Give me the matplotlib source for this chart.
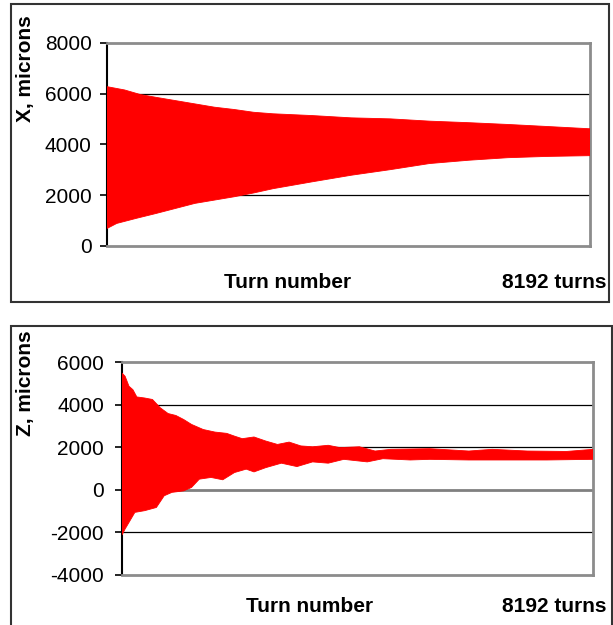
import matplotlib
matplotlib.use("Agg")
import matplotlib.pyplot as plt
from matplotlib.patches import Rectangle

plt.rcParams['font.family'] = ['Liberation Sans', 'DejaVu Sans']

# X envelope (turn, microns)
x_up_turn = [0, 298, 564, 829, 1161, 1492, 1824, 2156, 2487, 2819, 3482, 4146, 4809, 5472, 6136, 6799, 7462, 8192]
x_up_val = [6280, 6150, 5970, 5860, 5730, 5600, 5470, 5380, 5270, 5210, 5140, 5050, 5010, 4920, 4860, 4790, 4710, 4620]
x_lo_turn = [0, 166, 497, 829, 1161, 1492, 1824, 2156, 2487, 2819, 3482, 4146, 4809, 5472, 6136, 6799, 7462, 8192]
x_lo_val = [690, 890, 1090, 1280, 1480, 1680, 1810, 1940, 2090, 2260, 2530, 2790, 3010, 3250, 3380, 3480, 3530, 3560]

# Z envelope
z_up_turn = [0, 54, 122, 190, 258, 394, 530, 666, 802, 937, 1073, 1209, 1413, 1617, 1821, 1956,
             2092, 2296, 2500, 2704, 2907, 3111, 3315, 3587, 3790, 4130, 4402, 4674, 5353, 6032,
             6440, 7051, 7730, 8192]
z_up_val = [5480, 5330, 4860, 4700, 4360, 4310, 4240, 3850, 3580, 3490, 3300, 3070, 2830, 2710, 2650, 2520,
            2400, 2480, 2290, 2130, 2240, 2060, 2020, 2090, 1980, 2020, 1820, 1900, 1930, 1820,
            1900, 1820, 1800, 1900]
z_lo_turn = [0, 54, 122, 224, 394, 598, 734, 869, 1073, 1209, 1345, 1549, 1753, 1956, 2160, 2296,
             2500, 2772, 3043, 3315, 3587, 3858, 4266, 4538, 5013, 5353, 6032, 6711, 7391, 8192]
z_lo_val = [-2120, -1840, -1530, -1060, -980, -830, -280, -120, -50, 110, 500, 580, 470, 810, 970, 840,
            1040, 1250, 1090, 1310, 1250, 1430, 1310, 1460, 1400, 1430, 1400, 1400, 1400, 1430]

red = '#ff0000'
W, H = 613, 625

fig = plt.figure(figsize=(W / 100, H / 100), dpi=100)

# outer frames of the two chart objects
for (x0, y0, x1, y1) in [(11, 4, 609, 302), (11, 326, 612, 640)]:
    fig.patches.append(Rectangle((x0 / W, 1 - y1 / H), (x1 - x0) / W, (y1 - y0) / H,
                                 transform=fig.transFigure, fill=False,
                                 edgecolor='#333333', linewidth=1.5, clip_on=False))


def panel(rect, up_t, up_v, lo_t, lo_v, ylim, yticks, ylabel, ylab_y, text_y, turn_x, pad):
    x0, y0, x1, y1 = rect
    ax = fig.add_axes([x0 / W, 1 - y1 / H, (x1 - x0) / W, (y1 - y0) / H])
    ax.fill(list(up_t) + list(lo_t[::-1]), list(up_v) + list(lo_v[::-1]),
            color=red, linewidth=0.6, edgecolor=red, zorder=3)
    ax.set_xlim(0, 8192)
    ax.set_ylim(*ylim)
    ax.set_yticks(yticks)
    ax.set_yticklabels([str(t) for t in yticks], fontsize=15)
    ax.set_xticks([])
    for t in yticks[1:-1]:
        if t == 0:
            ax.axhline(t, color='#808080', linewidth=2, zorder=2)
        else:
            ax.axhline(t, color='black', linewidth=0.9, zorder=2)
    ax.tick_params(axis='y', direction='out', length=5, width=1.2, color='black', pad=pad)
    ax.spines['left'].set_color('black')
    ax.spines['left'].set_linewidth(1.5)
    for s in ['top', 'right', 'bottom']:
        ax.spines[s].set_color('#8c8c8c')
        ax.spines[s].set_linewidth(2)
    fig.text(26 / W, 1 - ylab_y / H, ylabel, rotation=90, ha='center', va='center',
             fontsize=15, fontweight='bold')
    fig.text(turn_x / W, 1 - text_y / H, 'Turn number', ha='center', va='center',
             fontsize=15, fontweight='bold')
    fig.text(607 / W, 1 - text_y / H, '8192 turns', ha='right', va='center',
             fontsize=15, fontweight='bold')
    return ax


panel((107, 43, 590, 246), x_up_turn, x_up_val, x_lo_turn, x_lo_val,
      (0, 8000), [0, 2000, 4000, 6000, 8000], 'X, microns', 69, 283, 288, 6)
panel((122, 362, 593, 575), z_up_turn, z_up_val, z_lo_turn, z_lo_val,
      (-4000, 6000), [-4000, -2000, 0, 2000, 4000, 6000], 'Z, microns', 383, 606, 310, 8)

fig.savefig('out.png', dpi=100)
